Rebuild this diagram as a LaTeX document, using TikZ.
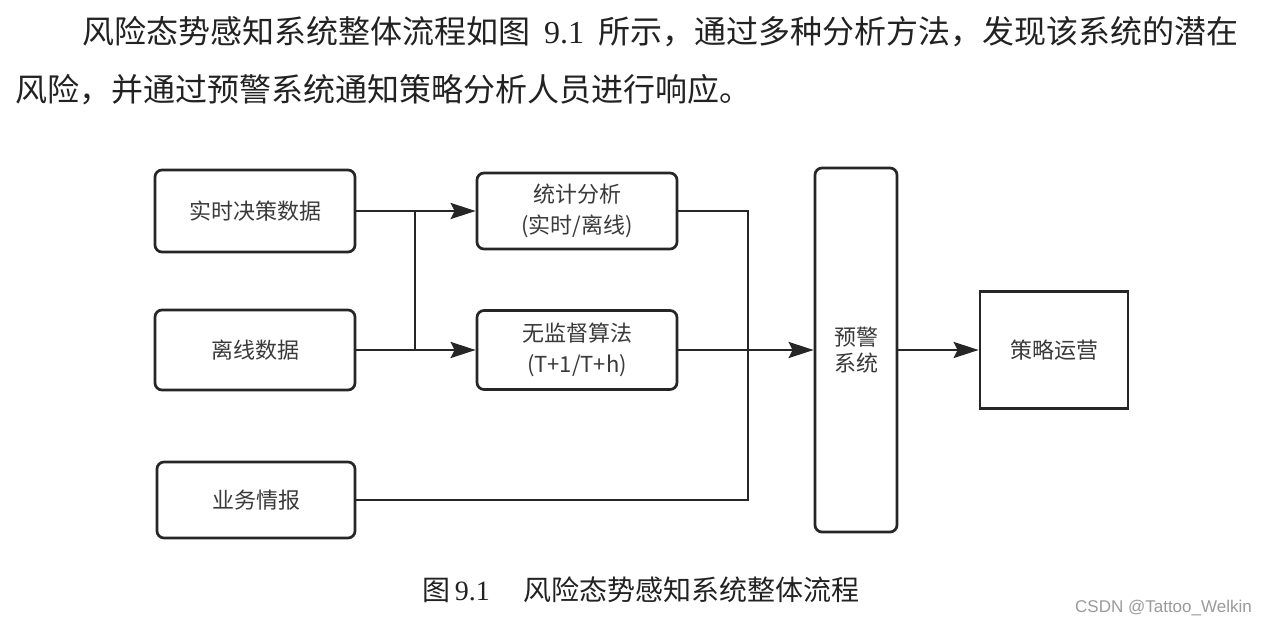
\documentclass[tikz,border=0pt]{standalone}
\usepackage{fontspec}
\setmainfont{Liberation Serif}
\newfontfamily\cjk{Noto Sans CJK SC}
\newfontfamily\wmfont{Liberation Sans}
\usetikzlibrary{arrows.meta}
\definecolor{linec}{HTML}{262626}
\definecolor{boxtext}{HTML}{3A3A3A}
\definecolor{bodytext}{HTML}{222222}
\definecolor{wmgray}{HTML}{9A9A9A}
\tikzset{
  flowbox/.style={draw=linec, line width=2.7pt, rounded corners=7pt, inner sep=0pt,
    text=boxtext, font=\cjk\fontsize{22}{31}\selectfont, align=center},
  sqbox/.style={flowbox, rounded corners=0pt},
  conn/.style={draw=linec, line width=2.7pt},
  arr/.style={conn, -{Stealth[length=25pt,width=16pt,inset=4pt]}},
  bodyline/.style={anchor=west, inner sep=0pt, text=bodytext, font=\fontsize{32}{38}\selectfont}
}
\begin{document}
\begin{tikzpicture}[x=1pt,y=-1pt]
\fill[white] (0,0) rectangle (1266,626);
\useasboundingbox (0,0) rectangle (1266,626);

% body text
\node[bodyline] (p1) at (82,32) {{\cjk 风险态势感知系统整体流程如图}\hspace{14pt}9.1\hspace{14pt}{\cjk 所示，通过多种分析方法，发现该系统的潜在}};
\node[bodyline] (p2) at (15,90) {\cjk 风险，并通过预警系统通知策略分析人员进行响应。};

% boxes
\node[flowbox, minimum width=200pt, minimum height=82pt] (rt) at (255,211) {实时决策数据};
\node[flowbox, minimum width=200pt, minimum height=80pt] (off) at (255,350) {离线数据};
\node[flowbox, minimum width=198pt, minimum height=76pt] (biz) at (256,500) {业务情报};
\node[flowbox, minimum width=200pt, minimum height=76pt] (stat) at (577,211) {统计分析\\(实时/离线)};
\node[flowbox, minimum width=200pt, minimum height=79pt] (uns) at (577,350) {无监督算法\\(T+1/T+h)};
\node[flowbox, minimum width=82pt, minimum height=364pt, font=\cjk\fontsize{22}{26}\selectfont] (warn) at (856,350) {预警\\系统};
\node[sqbox, minimum width=148pt, minimum height=117pt] (ops) at (1054,350) {策略运营};

% connectors
\coordinate (j1) at (415,211);
\coordinate (j2) at (415,350);
\coordinate (r1) at (748,211);
\coordinate (r2) at (748,500);

\draw[arr] (rt.east) -- (stat.west);
\draw[arr] (off.east) -- (uns.west);
\draw[conn] (j1) -- (j2);
\draw[conn, line join=miter] (stat.east) -- (r1) -- (r2) -- (biz.east);
\draw[arr] (uns.east) -- (warn.west);
\draw[arr] (warn.east) -- (ops.west);

% caption
\node[anchor=west, inner sep=0pt, text=bodytext, font=\fontsize{28}{32}\selectfont] (cap) at (422,590) {{\cjk 图}\,9.1\hspace{34pt}{\cjk 风险态势感知系统整体流程}};

% watermark
\node[anchor=east, inner sep=0pt, text=wmgray, font=\wmfont\fontsize{17}{20}\selectfont] (wm) at (1252,608) {CSDN @Tattoo\_Welkin};
\end{tikzpicture}
\end{document}
